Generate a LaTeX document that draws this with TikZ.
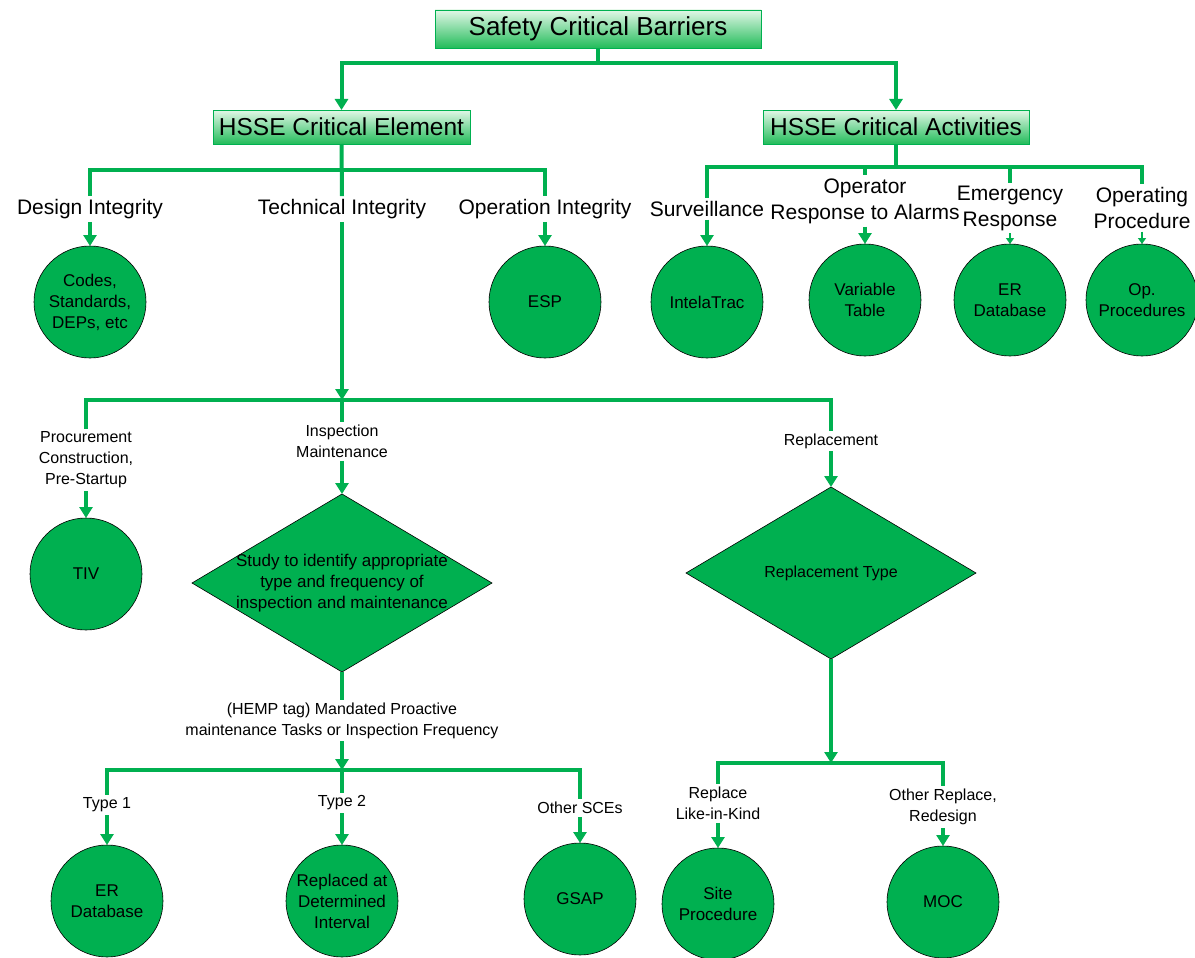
\documentclass[tikz,border=0pt]{standalone}
\usepackage{fontspec}
\setmainfont{Liberation Sans}
\usetikzlibrary{arrows.meta,shapes.geometric}
\definecolor{scegreen}{RGB}{0,176,80}
\definecolor{boxtop}{RGB}{226,247,231}
\definecolor{boxbot}{RGB}{34,188,90}

\begin{document}
\begin{tikzpicture}[y=1pt, x=1pt, yscale=-1, inner sep=3pt, outer sep=0pt,
  hdr/.style={draw=scegreen, line width=0.8pt, top color=boxtop, bottom color=boxbot,
    inner sep=0pt},
  lbl/.style={align=center, font=\fontsize{21}{26}\selectfont},
  sublbl/.style={align=center, font=\fontsize{16}{21}\selectfont},
  ball/.style={circle, draw=black, line width=0.6pt, fill=scegreen, minimum size=112,
    inner sep=0pt, align=center, font=\fontsize{17}{21}\selectfont},
  dia/.style={diamond, draw=black, line width=0.6pt, fill=scegreen, inner sep=0pt},
  link/.style={draw=scegreen, line width=4pt, line join=miter},
  arr/.style={link, -{Triangle[width=13pt,length=11pt]}},
  tinyarr/.style={draw=scegreen, line width=2pt, -{Triangle[width=8pt,length=6pt]}}]
\useasboundingbox (0,0) rectangle (1195,958);

% top level
\node[hdr, minimum width=326, minimum height=38, font=\fontsize{26}{30}\selectfont]
  (scb) at (598,29) {Safety Critical Barriers};
\node[hdr, minimum width=257, minimum height=34, font=\fontsize{24.5}{28}\selectfont]
  (hce) at (341.5,127) {HSSE Critical Element};
\node[hdr, minimum width=266, minimum height=34, font=\fontsize{24.5}{28}\selectfont]
  (hca) at (896,127) {HSSE Critical Activities};
\draw[arr] (scb.south) -- ++(0,15) -| (hce.north);
\draw[arr] (scb.south) -- ++(0,15) -| (hca.north);

% element branch
\node[lbl] (di) at (90,209) {Design Integrity};
\node[lbl] (ti) at (342,209) {Technical Integrity};
\node[lbl] (oi) at (545,209) {Operation Integrity};
\node[ball] (codes) at (90,302) {Codes,\\Standards,\\DEPs, etc};
\node[ball] (esp) at (545,302) {ESP};
\draw[link] (hce.south) -- (ti.north);
\draw[link] (hce.south) ++(0,26) -| (di.north);
\draw[link] (hce.south) ++(0,26) -| (oi.north);
\draw[arr] (di.south) -- (codes.north);
\draw[arr] (oi.south) -- (esp.north);

% activities branch
\node[lbl] (sv) at (707,209) {Surveillance};
\node[lbl] (ora) at (865,201) {Operator\\Response to Alarms};
\node[lbl] (er) at (1010,208) {Emergency\\Response};
\node[lbl] (op) at (1142,208) {Operating\\Procedure};
\node[ball] (intela) at (707,302) {IntelaTrac};
\node[ball] (vtab) at (865,300) {Variable\\Table};
\node[ball] (erdb) at (1010,300) {ER\\Database};
\node[ball] (opp) at (1142,300) {Op.\\Procedures};
\coordinate (aj) at (896,167);
\draw[link] (hca.south) -- (aj);
\draw[link] (aj) -| (sv.north);
\draw[link] (aj) -| (ora.north);
\draw[link] (aj) -| (er.north);
\draw[link] (aj) -| (op.north);
\draw[arr] (sv.south) -- (intela.north);
\draw[arr] (ora.south) -- (vtab.north);
\draw[tinyarr] (er.south) -- (erdb.north);
\draw[tinyarr] (op.south) -- (opp.north);

% technical integrity
\coordinate (tj) at (342,400);
\node[sublbl] (pcs) at (86,460) {Procurement\\Construction,\\Pre-Startup};
\node[sublbl] (im) at (342,441.5) {Inspection\\Maintenance};
\node[sublbl] (rp) at (831,441) {Replacement};
\node[ball] (tiv) at (86,574) {TIV};
\node[dia, minimum width=300, minimum height=178] (study) at (342,583) {};
\node[align=center, font=\fontsize{17}{21}\selectfont] (studytxt) at (study)
  {Study to identify appropriate\\type and frequency of\\inspection and maintenance};
\node[dia, minimum width=290, minimum height=172] (rtype) at (831,573) {};
\node[sublbl] (rtypetxt) at (rtype) {Replacement Type};
\draw[arr] (ti.south) -- (tj);
\draw[link] (tj) -| (pcs.north);
\draw[link] (tj) -| (rp.north);
\draw[link] (tj) -- (im.north);
\draw[arr] (pcs.south) -- (tiv.north);
\draw[arr] (im.south) -- (study.north);
\draw[arr] (rp.south) -- (rtype.north);

% inspection / maintenance outcomes
\node[sublbl] (hemp) at (342,720.5)
  {(HEMP tag) Mandated Proactive\\maintenance Tasks or Inspection Frequency};
\coordinate (hj) at (342,770);
\node[sublbl] (t1) at (107,805) {Type 1};
\node[sublbl] (t2) at (342,803) {Type 2};
\node[sublbl] (sce) at (580,808) {Other SCEs};
\node[ball] (erdb2) at (107,901) {ER\\Database};
\node[ball] (rdi) at (342,901) {Replaced at\\Determined\\Interval};
\node[ball] (gsap) at (580,899) {GSAP};
\draw[link] (study.south) -- (hemp.north);
\draw[arr] (hemp.south) -- (hj);
\draw[link] (hj) -| (t1.north);
\draw[link] (hj) -| (sce.north);
\draw[link] (hj) -- (t2.north);
\draw[arr] (t1.south) -- (erdb2.north);
\draw[arr] (t2.south) -- (rdi.north);
\draw[arr] (sce.south) -- (gsap.north);

% replacement outcomes
\coordinate (rj) at (831,763);
\node[sublbl] (rlk) at (718,803.5) {Replace\\Like-in-Kind};
\node[sublbl] (orr) at (943,807) {Other Replace,\\Redesign};
\node[ball] (site) at (718,904) {Site\\Procedure};
\node[ball] (moc) at (943,902) {MOC};
\draw[arr] (rtype.south) -- (rj);
\draw[link] (rj) -| (rlk.north);
\draw[link] (rj) -| (orr.north);
\draw[arr] (rlk.south) -- (site.north);
\draw[arr] (orr.south) -- (moc.north);

\end{tikzpicture}
\end{document}
